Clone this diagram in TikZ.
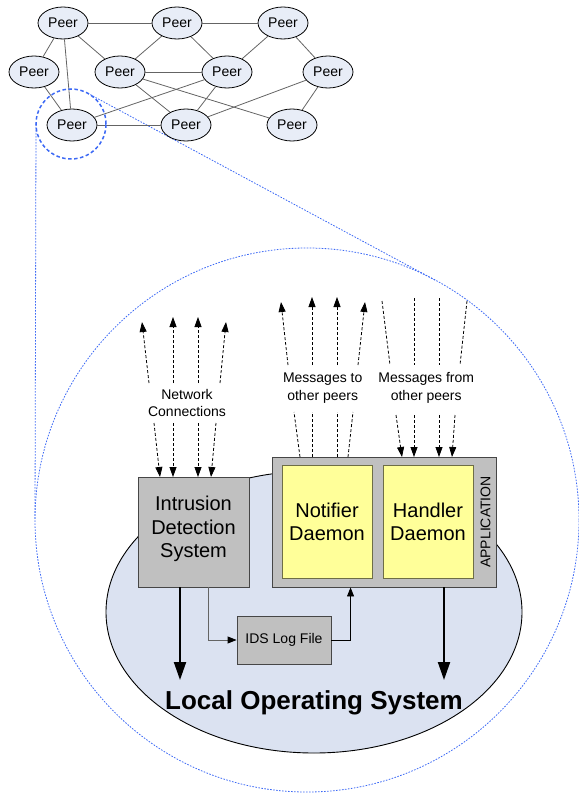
\documentclass[tikz,border=0pt]{standalone}
\usepackage{fontspec}
\setmainfont{Liberation Sans}
\usetikzlibrary{arrows.meta,shapes.geometric,calc}
\definecolor{peerfill}{RGB}{232,237,247}
\definecolor{osfill}{RGB}{219,226,241}
\definecolor{boxgray}{RGB}{192,192,192}
\definecolor{boxedge}{RGB}{70,70,70}
\definecolor{daemonfill}{RGB}{255,255,153}
\definecolor{daemonedge}{RGB}{110,110,70}
\definecolor{zoomblue}{RGB}{60,105,245}
\definecolor{edgegray}{RGB}{100,100,100}
\begin{document}
\begin{tikzpicture}[x=1pt,y=-1pt,
 peer/.style={ellipse,draw=black,fill=peerfill,line width=0.8pt,minimum width=50pt,minimum height=32pt,inner sep=0pt,font=\fontsize{14}{16}\selectfont},
 link/.style={draw=edgegray,line width=0.8pt},
 graybox/.style={draw=boxedge,fill=boxgray,line width=0.9pt,inner sep=0pt},
 daemon/.style={draw=daemonedge,fill=daemonfill,line width=0.9pt,inner sep=0pt,align=center,font=\fontsize{20}{23}\selectfont},
 zoomline/.style={draw=zoomblue,line width=0.8pt,dash pattern=on 1.6pt off 1.4pt},
 dasharrow/.style={draw=black,line width=0.8pt,dash pattern=on 3pt off 2pt,-{Triangle[length=10pt,width=7pt]}},
 dashline/.style={draw=black,line width=0.8pt,dash pattern=on 3pt off 2pt},
 bigarrow/.style={draw=black,line width=2pt,-{Triangle[length=18pt,width=12pt]}},
 thinarrow/.style={line width=0.9pt,-{Triangle[length=9pt,width=7pt,color=black]}},
 lbl/.style={align=center,font=\fontsize{14}{17.5}\selectfont,inner sep=0pt},
 boxtext/.style={align=center,font=\fontsize{20}{23.5}\selectfont,inner sep=0pt}
]
\useasboundingbox (0,0) rectangle (578,794);

% ---------- zoom outline ----------
\coordinate (zc) at (307,520);
\coordinate (sc) at (71,124);
\coordinate (ta) at (87.6,93.2);
\coordinate (tb) at (435.8,280.5);
\coordinate (tc) at (36,124);
\coordinate (td) at (35,520);
\draw[zoomline] (zc) circle[radius=272pt];
\draw[zoomline] (ta) -- (tb);
\draw[zoomline] (tc) -- (td);

% ---------- peer network ----------
\node[peer] (p1) at (63,23) {Peer};
\node[peer] (p2) at (177,23) {Peer};
\node[peer] (p3) at (283,23) {Peer};
\node[peer] (p4) at (34,72) {Peer};
\node[peer] (p5) at (120,72) {Peer};
\node[peer] (p6) at (227,72) {Peer};
\node[peer] (p7) at (328,72) {Peer};
\node[peer] (p8) at (72,125) {Peer};
\node[peer] (p9) at (186,125) {Peer};
\node[peer] (p10) at (292,125) {Peer};
\foreach \a/\b in {p1/p2,p2/p3,p1/p4,p1/p8,p1/p5,p2/p5,p2/p6,p3/p6,p3/p7,p4/p8,p5/p6,p5/p9,p5/p10,p6/p8,p6/p9,p7/p9,p7/p10,p8/p9}
  \draw[link] (\a) -- (\b);
\draw[draw=zoomblue,line width=1.5pt,dash pattern=on 3.5pt off 2.5pt] (sc) circle[radius=35pt];

% ---------- local operating system ----------
\node[ellipse,draw=black,fill=osfill,line width=0.9pt,minimum width=416pt,minimum height=282pt,inner sep=0pt] (os) at (314,612) {};
\node[anchor=base,font=\fontsize{26}{30}\selectfont\bfseries,inner sep=0pt] (ostext) at (314,709) {Local Operating System};

% IDS box
\node[graybox,minimum width=111pt,minimum height=110pt] (ids) at (193.5,532) {};
\node[boxtext] (idstext) at (193.5,529) {Intrusion\\Detection\\System};

% Application box
\node[graybox,minimum width=224pt,minimum height=130pt] (app) at (384,522) {};
\node[daemon,minimum width=90pt,minimum height=113pt] (notif) at (327,521.5) {Notifier\\Daemon};
\node[daemon,minimum width=90pt,minimum height=113pt] (handler) at (428,521.5) {Handler\\Daemon};
\node[rotate=90,font=\fontsize{14}{16}\selectfont,inner sep=0pt] (apptext) at (485.5,522) {APPLICATION};

% IDS log file
\node[graybox,minimum width=94pt,minimum height=48pt,font=\fontsize{14}{16}\selectfont] (log) at (284,640) {IDS Log File};

% arrows into the OS
\coordinate (idsdown) at (180,680);
\coordinate (appdown) at (444,680);
\draw[bigarrow] (ids.south -| idsdown) -- (idsdown);
\draw[bigarrow] (app.south -| appdown) -- (appdown);
\draw[thinarrow,draw=edgegray] ($(ids.south)+(14.5,0)$) |- (log.west);
\draw[thinarrow,draw=black] (log.east) -| ($(app.south west)+(79,0)$);

% ---------- labels ----------
\node[lbl] (nc) at (187,403) {Network\\Connections};
\node[lbl] (mto) at (322.7,388) {Messages to\\other peers};
\node[lbl] (mfrom) at (426.2,388) {Messages from\\other peers};

% ---------- dashed connectors ----------
\foreach \i/\xa/\ya/\xb/\yb in {1/149/383/142/322, 2/173/383/173/317, 3/198/383/198/317, 4/220/383/226/322}{
  \coordinate (nus\i) at (\xa,\ya); \coordinate (nue\i) at (\xb,\yb);
  \draw[dasharrow] (nus\i) -- (nue\i);
}
\foreach \i/\xa/\ya/\xb/\yb in {1/154/423/160/477, 2/173/423/173/477, 3/198/423/198/477, 4/216/423/211/477}{
  \coordinate (nds\i) at (\xa,\ya); \coordinate (nde\i) at (\xb,\yb);
  \draw[dasharrow] (nds\i) -- (nde\i);
}
\foreach \i/\xa/\ya/\xb/\yb in {1/288/365/281/302, 2/312/365/312/297, 3/337/365/337/297, 4/358/365/365/302}{
  \coordinate (tus\i) at (\xa,\ya); \coordinate (tue\i) at (\xb,\yb);
  \draw[dasharrow] (tus\i) -- (tue\i);
}
\foreach \i/\xa/\ya/\xb/\yb in {1/300/457/294/412, 2/312/457/312/412, 3/337/457/337/412, 4/348/457/353/412}{
  \coordinate (tds\i) at (\xa,\ya); \coordinate (tde\i) at (\xb,\yb);
  \draw[dashline] (tds\i) -- (tde\i);
}
\foreach \i/\xa/\ya/\xb/\yb in {1/382/301/390/365, 2/414/298/414/365, 3/439/298/439/365, 4/467/301/460/365}{
  \coordinate (fus\i) at (\xa,\ya); \coordinate (fue\i) at (\xb,\yb);
  \draw[dashline] (fus\i) -- (fue\i);
}
\foreach \i/\xa/\ya/\xb/\yb in {1/396/415/402/457, 2/414/415/414/457, 3/439/415/439/457, 4/455/415/452/457}{
  \coordinate (fds\i) at (\xa,\ya); \coordinate (fde\i) at (\xb,\yb);
  \draw[dasharrow] (fds\i) -- (fde\i);
}
\end{tikzpicture}
\end{document}
